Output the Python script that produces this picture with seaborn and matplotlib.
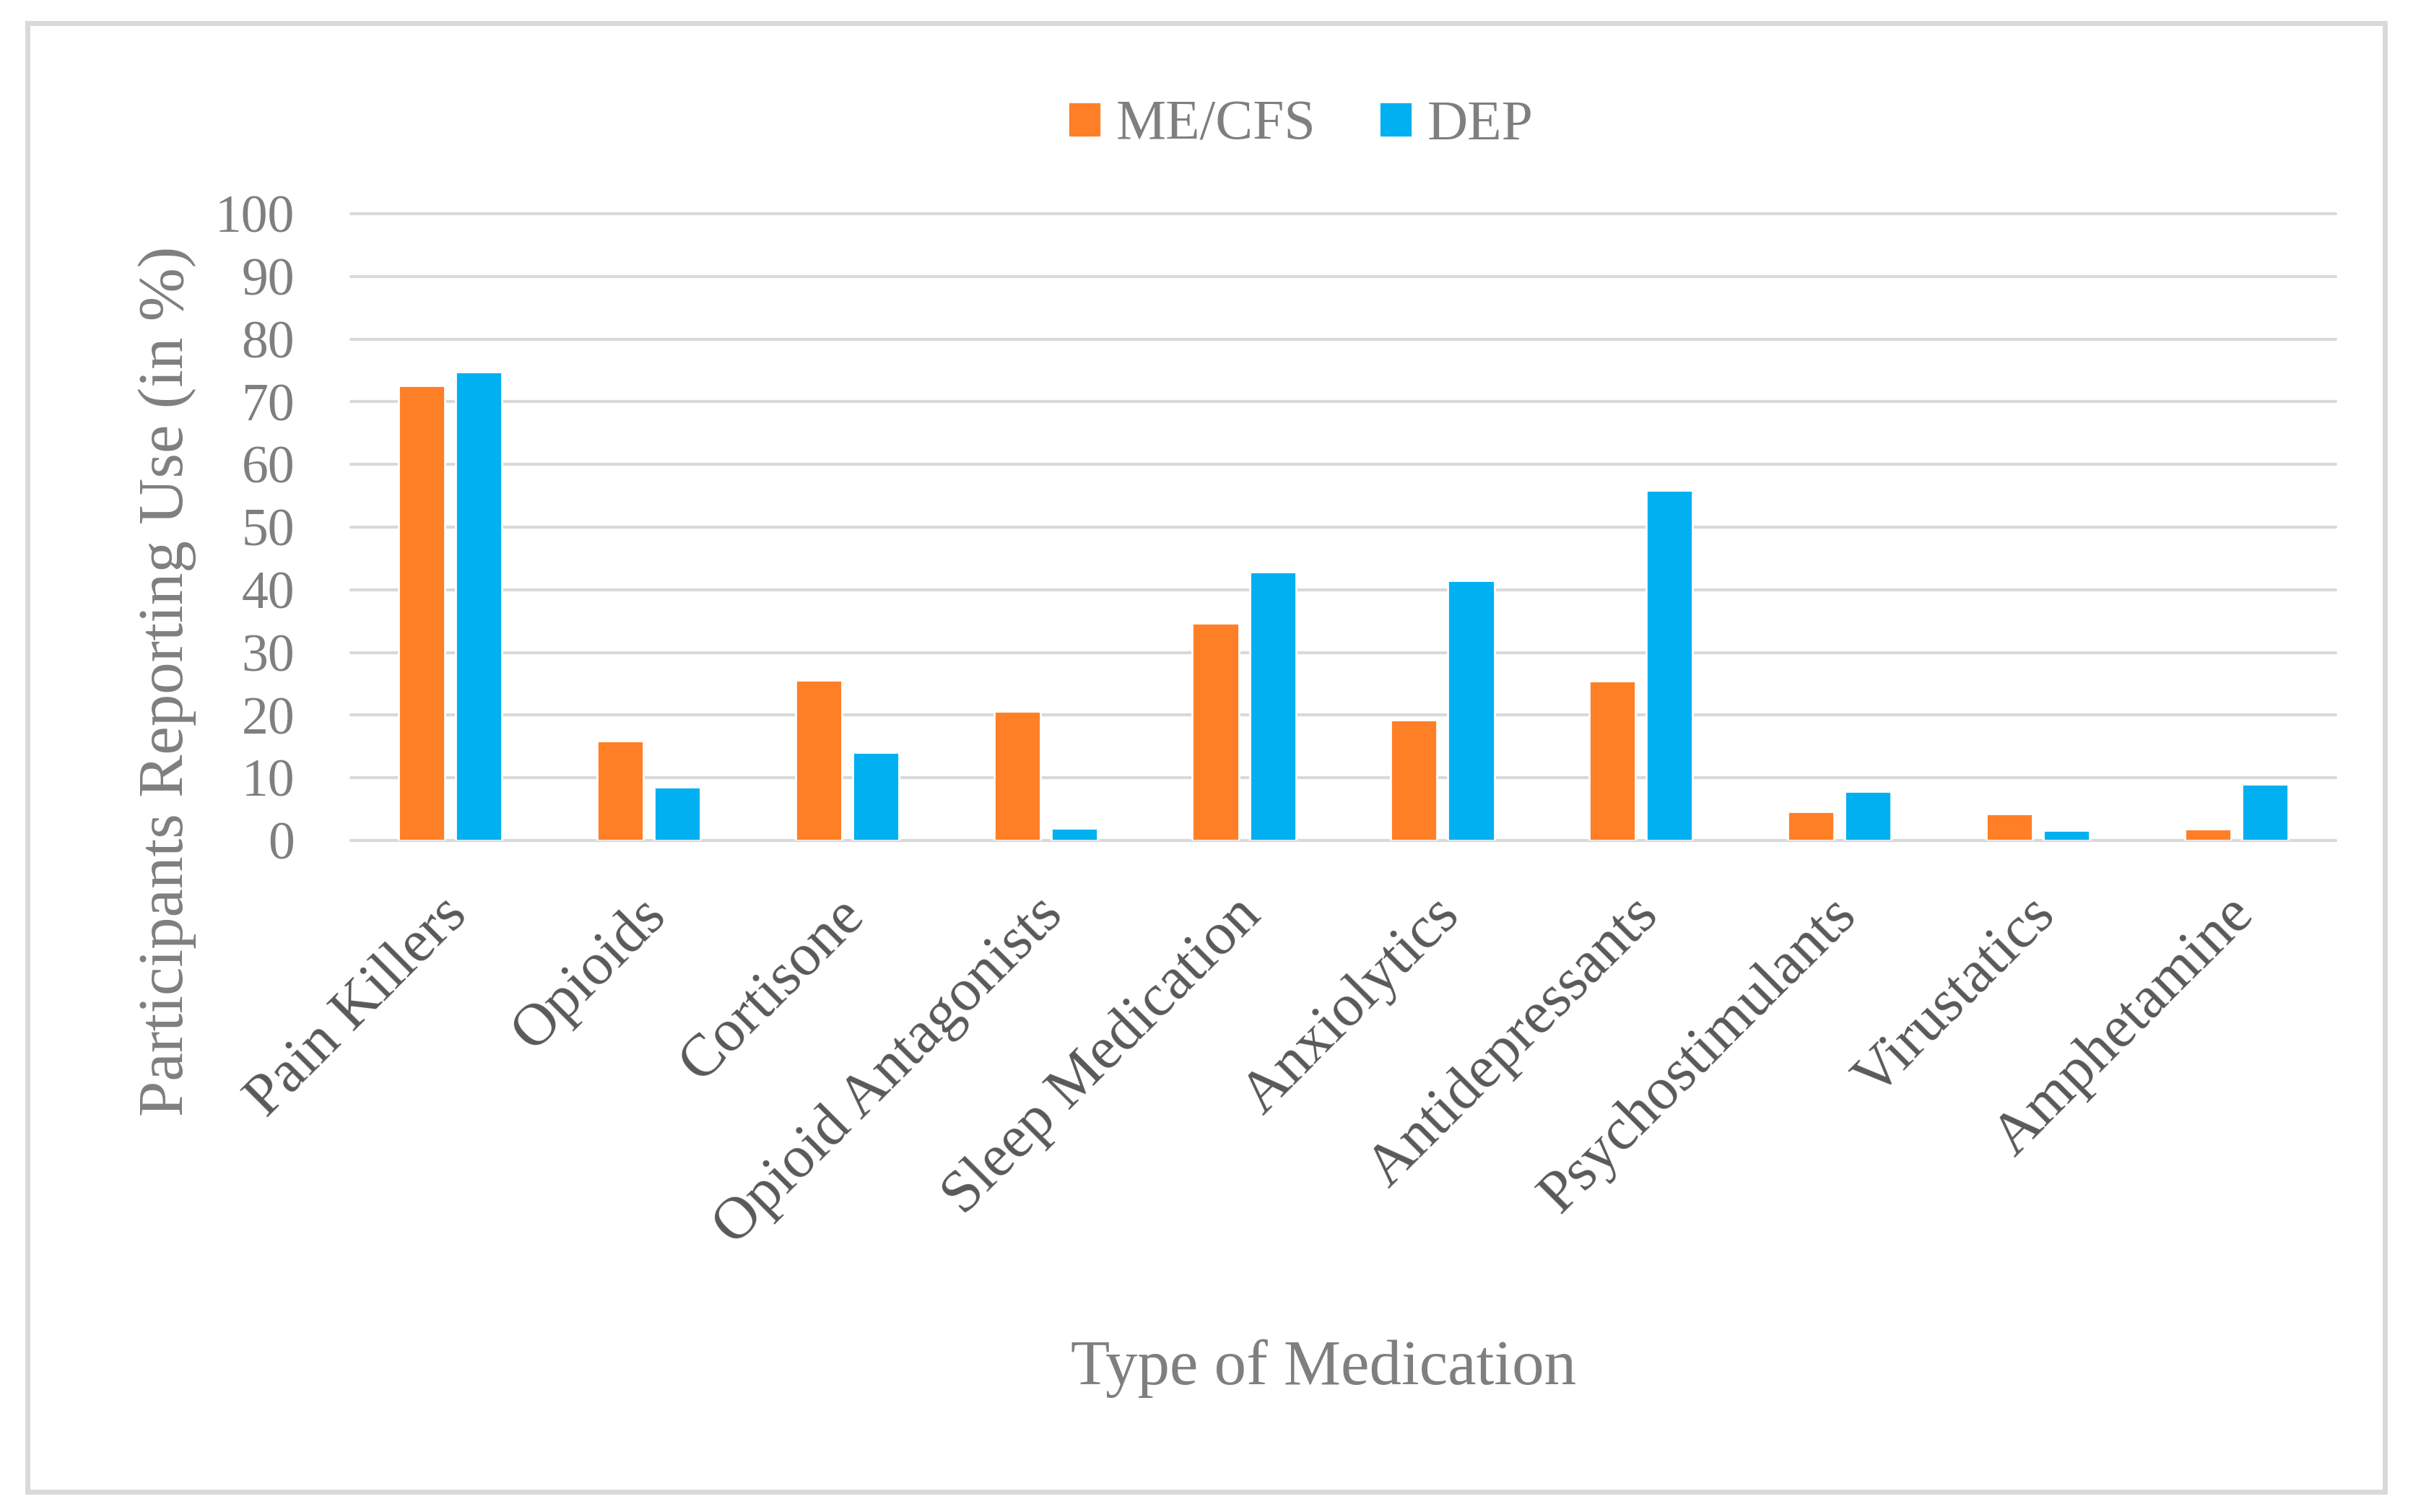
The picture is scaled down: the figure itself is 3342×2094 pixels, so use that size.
import matplotlib
matplotlib.use("Agg")
import matplotlib.pyplot as plt
import matplotlib.transforms as mtransforms
from matplotlib.patches import Rectangle
import seaborn as sns
import pandas as pd

# ---- data ----
categories = ["Pain Killers", "Opioids", "Cortisone", "Opioid Antagonists",
              "Sleep Medication", "Anxiolytics", "Antidepressants",
              "Psychostimulants", "Virustatics", "Amphetamine"]
me_cfs = [72.6, 15.9, 25.6, 20.6, 34.7, 19.2, 25.5, 4.6, 4.3, 1.8]
dep = [74.8, 8.5, 14.0, 2.0, 42.9, 41.5, 55.9, 7.8, 1.6, 9.0]
groups = ["ME/CFS", "DEP"]
y_ticks = [0, 10, 20, 30, 40, 50, 60, 70, 80, 90, 100]

df = pd.DataFrame({
    "Medication": categories * 2,
    "Percent": me_cfs + dep,
    "Group": [groups[0]] * len(categories) + [groups[1]] * len(categories),
})

sns.set_theme(style="white")
plt.rcParams["font.family"] = ["Liberation Serif", "DejaVu Serif"]

ORANGE = "#FF7F27"
BLUE = "#00B0F0"
GRID = "#D9D9D9"
TXT = "#7F7F7F"
TICKX = "#595959"

fig = plt.figure(figsize=(16.71, 10.47), dpi=200)
fig.patch.set_facecolor("white")
ax = fig.add_axes([486 / 3342, 930 / 2094, (3235 - 486) / 3342, 868 / 2094])

sns.barplot(data=df, x="Medication", y="Percent", hue="Group",
            palette=[ORANGE, BLUE], width=0.576, gap=0.19,
            saturation=1, ax=ax, errorbar=None)

handles, labels = ax.get_legend_handles_labels()
if ax.get_legend() is not None:
    ax.get_legend().remove()

ax.set_ylim(0, 100)
ax.set_yticks(y_ticks)
ax.yaxis.grid(True, color=GRID, linewidth=1.5)
ax.xaxis.grid(False)
ax.set_axisbelow(True)
for gl in ax.get_ygridlines():
    gl.set_clip_on(False)
for s in ax.spines.values():
    s.set_visible(False)

ax.tick_params(axis="y", length=0, pad=28, labelsize=26.5, labelcolor=TXT)
ax.tick_params(axis="x", length=0, pad=33, labelsize=30, labelcolor=TICKX)
ax.set_xticks(range(len(categories)))
ax.set_xticklabels(categories, rotation=45, ha="right", va="center",
                   rotation_mode="anchor")
offset = mtransforms.ScaledTranslation(12 / 200, 0, fig.dpi_scale_trans)
for lab in ax.get_xticklabels():
    lab.set_transform(lab.get_transform() + offset)

ax.set_ylabel("Participants Reporting Use (in %)", fontsize=32, color=TXT)
ax.yaxis.set_label_coords((232 - 486) / 2749, (1164 - 943) / 868)
ax.yaxis.label.set_verticalalignment("center")
ax.set_xlabel("Type of Medication", fontsize=32, color=TXT)
ax.xaxis.set_label_coords((1833 - 486) / 2749, (1164 - 1895) / 868)
ax.xaxis.label.set_verticalalignment("center")

leg = fig.legend(handles, labels, loc="center", bbox_to_anchor=(0.539, 1 - 174 / 2094),
                 ncol=2, frameon=False, fontsize=28, handlelength=0.59,
                 handleheight=0.59, handletextpad=0.26, columnspacing=1.13,
                 labelcolor=TXT)

fig.patches.append(Rectangle((38 / 3342, (2094 - 2066) / 2094),
                             (3303 - 38) / 3342, (2066 - 32) / 2094,
                             transform=fig.transFigure, fill=False,
                             edgecolor=GRID, linewidth=2.5))

fig.savefig("out.png", dpi=200, facecolor="white")
